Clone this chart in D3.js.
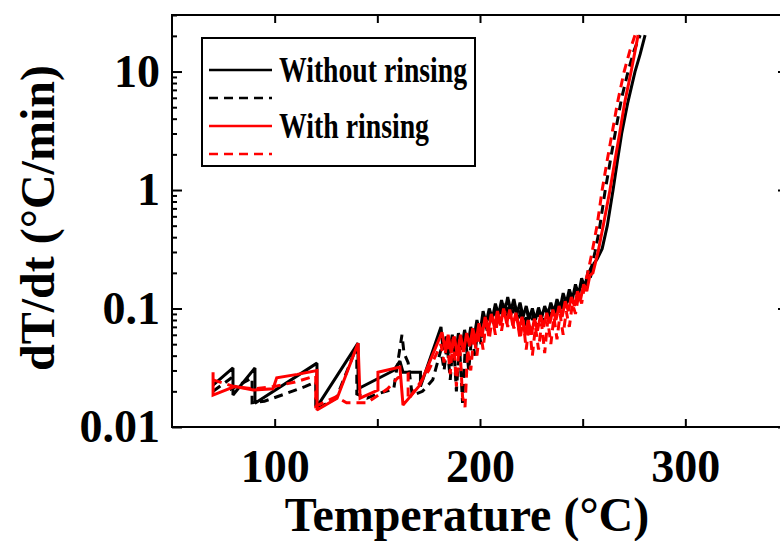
<!DOCTYPE html>
<html>
<head>
<meta charset="utf-8">
<script src="https://cdn.jsdelivr.net/npm/d3@7"></script>
<style>
  body { margin: 0; background: #fff; }
  svg { display: block; }
  text { font-family: "Liberation Serif", "Times New Roman", serif; font-weight: bold; fill: #000; }
</style>
</head>
<body>
<svg id="chart" width="780" height="541"></svg>
<script>
// Heating rate dT/dt (°C/min) against temperature (°C), pairs of [T, rate]
const withoutRinsingRun1 = [
  [70,0.0226],[79.7,0.0315],[79.7,0.0186],[90.4,0.0315],[90.4,0.0159],[120.6,0.0346],[120.6,0.0148],
  [140.6,0.051],[140.6,0.021],[158,0.03],[161,0.036],[162.5,0.029],[171,0.029],[171,0.022],[181,0.07],
  [182,0.045],[183.5,0.058],[185,0.042],[186.5,0.06],[188,0.04],[189.5,0.062],[191,0.045],[192.5,0.066],
  [194,0.048],[195.5,0.07],[197,0.055],[198.5,0.08],[200,0.062],[201.5,0.095],[203,0.075],[204.5,0.1],
  [206,0.082],[207.5,0.11],[209,0.088],[210.5,0.118],[212,0.092],[213.5,0.125],[215,0.095],[216.5,0.12],
  [218,0.09],[219.5,0.112],[221,0.085],[222.5,0.105],[224,0.082],[225.5,0.1],[227,0.08],[228.5,0.102],
  [230,0.083],[231.5,0.105],[233,0.088],[234.5,0.112],[236,0.092],[237.5,0.12],[239,0.1],[240.5,0.135],
  [242,0.11],[243.5,0.145],[245,0.12],[246.5,0.16],[248,0.13],[249.5,0.18],[251,0.15],[252.5,0.2],
  [254,0.19],[255.5,0.24],[257,0.26],[259.5,0.32],[262,0.5],[264.8,1.0],[267,1.8],[269,3],[272,5.5],
  [275.5,10],[278,14],[280.4,20.3]
];
const withoutRinsingRun2 = [
  [70,0.020],[79,0.026],[79,0.021],[89,0.026],[89,0.016],[95,0.0165],[105,0.019],[115,0.022],[120,0.024],
  [120,0.014],[130,0.0175],[140,0.048],[140,0.019],[145,0.0175],[150,0.019],[158,0.021],[162,0.06],
  [163,0.042],[165,0.035],[167,0.0185],[172,0.02],[177,0.025],[181,0.045],
  [182.5,0.03],[184,0.05],[185.5,0.025],[187,0.055],[188.5,0.02],[190,0.05],[191.5,0.016],[193,0.055],
  [194.5,0.03],[196,0.06],[197.5,0.04],[199,0.07],[200.5,0.05],[202,0.085],[203.5,0.065],[205,0.095],
  [206.5,0.075],[208,0.105],[209.5,0.08],[211,0.115],[212.5,0.085],[214,0.11],[215.5,0.085],[217,0.105],
  [218.5,0.075],[220,0.1],[221.5,0.07],[223,0.095],[224.5,0.065],[226,0.09],[227.5,0.07],[229,0.095],
  [230.5,0.075],[232,0.1],[233.5,0.08],[235,0.105],[236.5,0.085],[238,0.115],[239.5,0.09],[241,0.125],
  [242.5,0.1],[244,0.135],[245.5,0.11],[247,0.15],[248.5,0.12],[250,0.17],[251.5,0.15],[253,0.2],
  [254.5,0.23],[256,0.3],[258,0.45],[261,1.0],[264,2],[266.5,3.5],[269,6],[272.1,10],[275,15],[278,20.3]
];
const withRinsingRun1 = [
  [70,0.029],[70,0.0186],[80.7,0.022],[89.5,0.0205],[99.2,0.021],[101,0.026],[111,0.0278],[120.6,0.030],
  [120.6,0.0139],[130.4,0.0175],[140.6,0.051],[141.6,0.0175],[150.3,0.0205],[150.3,0.029],[161,0.032],
  [162.5,0.0153],[170.8,0.0226],[181.5,0.063],
  [183,0.045],[184.5,0.06],[186,0.042],[187.5,0.058],[189,0.04],[190.5,0.06],[192,0.043],[193.5,0.062],
  [195,0.048],[196.5,0.068],[198,0.052],[199.5,0.075],[201,0.058],[202.5,0.085],[204,0.065],[205.5,0.09],
  [207,0.07],[208.5,0.095],[210,0.072],[211.5,0.1],[213,0.075],[214.5,0.098],[216,0.072],[217.5,0.092],
  [219,0.066],[220.5,0.085],[222,0.06],[223.5,0.08],[225,0.06],[226.5,0.082],[228,0.065],[229.5,0.088],
  [231,0.07],[232.5,0.092],[234,0.075],[235.5,0.098],[237,0.08],[238.5,0.105],[240,0.085],[241.5,0.115],
  [243,0.095],[244.5,0.125],[246,0.105],[247.5,0.14],[249,0.12],[250.5,0.16],[252,0.14],[253.5,0.19],
  [255,0.2],[257.5,0.3],[260,0.5],[263.3,1.0],[266,1.9],[268,3],[270.5,5.5],[273.6,10],[277,20.3]
];
const withRinsingRun2 = [
  [70,0.025],[80,0.022],[90,0.021],[100,0.022],[110,0.024],[120,0.027],[120,0.015],[130,0.018],
  [135,0.016],[145,0.016],[155,0.021],[160,0.026],[165,0.028],[165,0.017],[175,0.03],[181,0.05],
  [182.5,0.035],[184,0.055],[185.5,0.028],[187,0.06],[188.5,0.022],[190,0.055],[191.5,0.018],[192.7,0.0147],
  [194,0.045],[195.5,0.03],[197,0.06],[198.5,0.04],[200,0.07],[201.5,0.045],[203,0.08],[204.5,0.055],
  [206,0.085],[207.5,0.06],[209,0.09],[210.5,0.065],[212,0.095],[213.5,0.07],[215,0.092],[216.5,0.068],
  [218,0.085],[219.5,0.055],[221,0.08],[222.5,0.045],[224,0.075],[225.5,0.04],[227,0.07],[228.5,0.045],
  [230,0.075],[231.5,0.042],[233,0.08],[234.5,0.05],[236,0.085],[237.5,0.055],[239,0.09],[240.5,0.06],
  [242,0.095],[243.5,0.07],[245,0.11],[246.5,0.09],[248,0.13],[249.5,0.11],[251,0.16],[252.5,0.2],
  [254.6,0.3],[257,0.5],[259.5,1.0],[262,1.8],[265,3.5],[267,5.5],[270.2,10],[273,15],[275.5,20.3]
];

const legendLabels = ["Without rinsing", "", "With rinsing", ""];
const xTickValues = [100, 200, 300];
const xTickLabels = ["100", "200", "300"];
const xAllTicks = [100, 150, 200, 250, 300];
const yTickValues = [0.01, 0.1, 1, 10];
const yTickLabels = ["0.01", "0.1", "1", "10"];

const series = [
  { data: withoutRinsingRun1, color: "#000000", dash: null },
  { data: withoutRinsingRun2, color: "#000000", dash: "9,6" },
  { data: withRinsingRun1, color: "#ff0000", dash: null },
  { data: withRinsingRun2, color: "#ff0000", dash: "9,6" }
];

const svg = d3.select("#chart");
const plotLeft = 172, plotRight = 788, plotTop = 15, plotBottom = 427;

const x = d3.scaleLinear().domain([50, 350]).range([plotLeft, plotRight]);
const y = d3.scaleLog().domain([0.01, 30]).range([plotBottom, plotTop]);

// minor log ticks: 2..9 of each decade up to the top of the range
const yMinor = [];
[0.01, 0.1, 1, 10].forEach(d => { for (let k = 2; k <= 9; k++) { const v = d * k; if (v <= 30) yMinor.push(v); } });

svg.append("defs").append("clipPath").attr("id", "plotClip")
  .append("rect").attr("x", plotLeft).attr("y", plotTop)
  .attr("width", plotRight - plotLeft).attr("height", plotBottom - plotTop);

// data lines
const line = d3.line().x(d => x(d[0])).y(d => y(d[1]));
const plot = svg.append("g").attr("clip-path", "url(#plotClip)");
series.forEach(s => {
  plot.append("path").datum(s.data)
    .attr("d", line)
    .attr("fill", "none")
    .attr("stroke", s.color)
    .attr("stroke-width", 3)
    .attr("stroke-linejoin", "miter")
    .attr("stroke-miterlimit", 2)
    .attr("stroke-dasharray", s.dash);
});

// axes with inward ticks
function styleAxis(g) {
  g.select(".domain").remove();
  g.selectAll(".tick line").attr("stroke", "#000").attr("stroke-width", 2);
}
svg.append("g").attr("transform", `translate(0,${plotBottom})`)
  .call(d3.axisBottom(x).tickValues(xAllTicks).tickSize(-8).tickPadding(22)
    .tickFormat(d => { const i = xTickValues.indexOf(d); return i >= 0 ? xTickLabels[i] : ""; }))
  .call(styleAxis)
  .selectAll("text").style("font-size", "46px").attr("fill", "#000");
svg.append("g").attr("transform", `translate(0,${plotTop})`)
  .call(d3.axisTop(x).tickValues(xAllTicks).tickSize(-8).tickFormat(""))
  .call(styleAxis);

svg.append("g").attr("transform", `translate(${plotLeft},0)`)
  .call(d3.axisLeft(y).tickValues(yTickValues).tickSize(-10).tickPadding(12)
    .tickFormat(d => yTickLabels[yTickValues.indexOf(d)]))
  .call(styleAxis)
  .selectAll("text").style("font-size", "46px").attr("fill", "#000");
svg.append("g").attr("transform", `translate(${plotLeft},0)`)
  .call(d3.axisLeft(y).tickValues(yMinor).tickSize(-5).tickFormat(""))
  .call(styleAxis);
svg.append("g").attr("transform", `translate(${plotRight},0)`)
  .call(d3.axisRight(y).tickValues(yTickValues).tickSize(-10).tickFormat(""))
  .call(styleAxis);
svg.append("g").attr("transform", `translate(${plotRight},0)`)
  .call(d3.axisRight(y).tickValues(yMinor).tickSize(-5).tickFormat(""))
  .call(styleAxis);

// frame
svg.append("rect").attr("x", plotLeft).attr("y", plotTop)
  .attr("width", plotRight - plotLeft).attr("height", plotBottom - plotTop)
  .attr("fill", "none").attr("stroke", "#000").attr("stroke-width", 2);

// axis titles
svg.append("text").attr("x", 467).attr("y", 531).attr("text-anchor", "middle")
  .style("font-size", "48px").text("Temperature (°C)");
svg.append("text").attr("transform", "translate(54,218) rotate(-90)").attr("text-anchor", "middle")
  .style("font-size", "48px").text("dT/dt (°C/min)");

// legend
const lg = svg.append("g");
lg.append("rect").attr("x", 202).attr("y", 38).attr("width", 273).attr("height", 128)
  .attr("fill", "#fff").attr("stroke", "#000").attr("stroke-width", 2);
const rowY = [70, 98, 126, 154];
const labelWidths = [188, 0, 150, 0];
series.forEach((s, i) => {
  lg.append("line").attr("x1", 209).attr("x2", 272).attr("y1", rowY[i]).attr("y2", rowY[i])
    .attr("stroke", s.color).attr("stroke-width", 2.6).attr("stroke-dasharray", s.dash);
  if (legendLabels[i]) {
    lg.append("text").attr("x", 279).attr("y", rowY[i] + 12)
      .style("font-size", "36px")
      .attr("textLength", labelWidths[i]).attr("lengthAdjust", "spacingAndGlyphs")
      .text(legendLabels[i]);
  }
});
</script>
</body>
</html>
